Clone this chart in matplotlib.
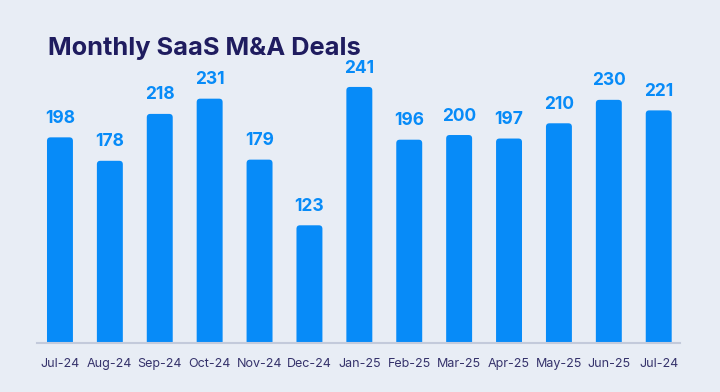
import matplotlib.pyplot as plt
from matplotlib.patches import FancyBboxPatch

# datos del gráfico
months = ["Jul-24", "Aug-24", "Sep-24", "Oct-24", "Nov-24", "Dec-24", "Jan-25",
          "Feb-25", "Mar-25", "Apr-25", "May-25", "Jun-25", "Jul-24"]
deals = [198, 178, 218, 231, 179, 123, 241, 196, 200, 197, 210, 230, 221]

bg = "#E8EDF5"
blue = "#078BF8"
navy = "#1F1C5F"

plt.rcParams['font.family'] = ['Inter', 'DejaVu Sans']

fig = plt.figure(figsize=(7.2, 3.92), dpi=100, facecolor=bg)
ax = fig.add_axes([0.0514, 0.125, 0.8926, 0.722], facecolor=bg)

x = list(range(len(months)))
bars = ax.bar(x, deals, width=0.52, color=blue)
ax.set_xlim(-0.46, 12.42)
ax.set_ylim(22.6, 264)

# esquinas redondeadas
for b in bars:
    rr = FancyBboxPatch((b.get_x(), b.get_y()), b.get_width(), b.get_height(),
                        boxstyle="round,pad=0,rounding_size=0.07",
                        mutation_aspect=42.6, fc=blue, ec="none")
    b.remove()
    ax.add_patch(rr)

for i, v in zip(x, deals):
    ax.annotate(str(v), (i, v), xytext=(0, 7.5), textcoords="offset points",
                ha="center", va="bottom", color=blue, fontsize=12.5,
                fontweight="bold")

ax.set_xticks(x)
ax.set_xticklabels(months, color="#35326B", fontsize=9)
ax.tick_params(axis="x", length=0, pad=11)
ax.set_yticks([])
for s in ["top", "right", "left"]:
    ax.spines[s].set_visible(False)
ax.spines["bottom"].set_color("#C3CADB")
ax.spines["bottom"].set_linewidth(1.5)

fig.text(0.067, 0.86, "Monthly SaaS M&A Deals", color=navy, fontsize=18.3,
         fontweight="bold", ha="left", va="baseline")

plt.savefig("out.png", dpi=100, facecolor=bg)
